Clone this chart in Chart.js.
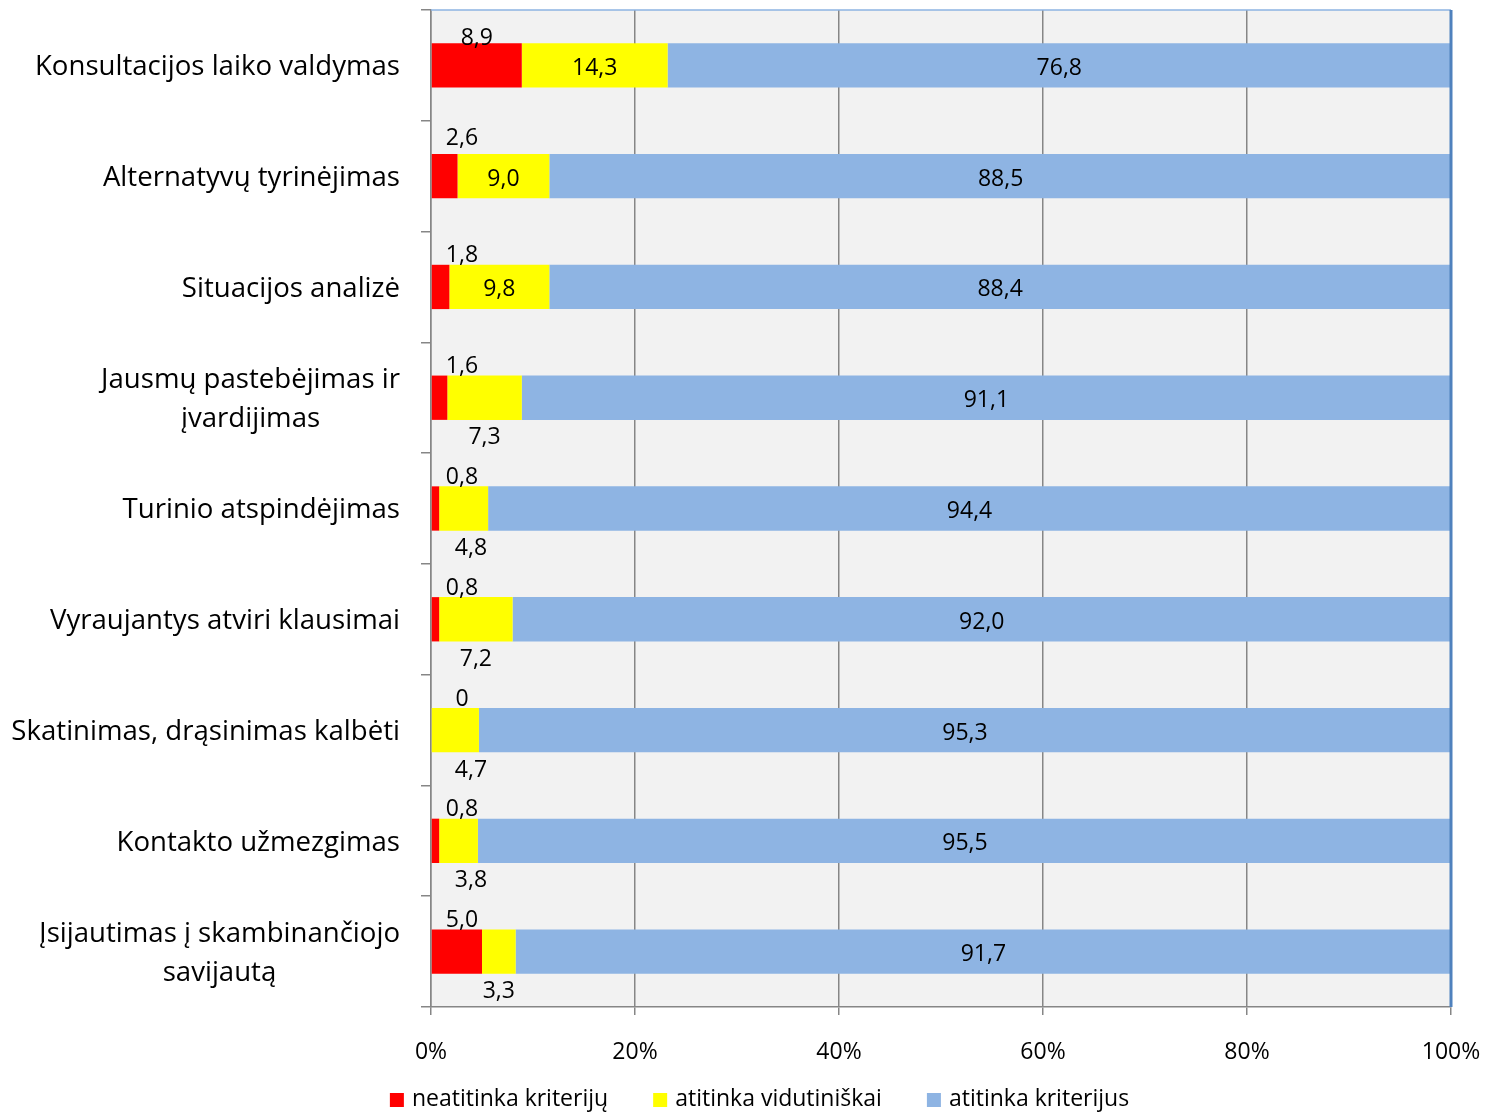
<!DOCTYPE html>
<html>
<head>
<meta charset="utf-8">
<script src="https://cdn.jsdelivr.net/npm/chart.js@4.4.0/dist/chart.umd.min.js"></script>
<style>
html, body { margin: 0; padding: 0; background: #ffffff; }
canvas { display: block; }
</style>
</head>
<body>
<canvas id="chart" width="1485" height="1112"></canvas>
<script>
var categories = [
    ['Konsultacijos laiko valdymas'],
    ['Alternatyvų tyrinėjimas'],
    ['Situacijos analizė'],
    ['Jausmų pastebėjimas ir', 'įvardijimas'],
    ['Turinio atspindėjimas'],
    ['Vyraujantys atviri klausimai'],
    ['Skatinimas, drąsinimas kalbėti'],
    ['Kontakto užmezgimas'],
    ['Įsijautimas į skambinančiojo', 'savijautą']
];
var neatitinka = [8.9, 2.6, 1.8, 1.6, 0.8, 0.8, 0, 0.8, 5.0];
var vidutiniskai = [14.3, 9.0, 9.8, 7.3, 4.8, 7.2, 4.7, 3.8, 3.3];
var atitinka = [76.8, 88.5, 88.4, 91.1, 94.4, 92.0, 95.3, 95.5, 91.7];
var seriesNames = ['neatitinka kriterijų', 'atitinka vidutiniškai', 'atitinka kriterijus'];
var xTicks = [0, 20, 40, 60, 80, 100];

var FONT = '"Open Sans", "DejaVu Sans", sans-serif';
var gridGray = '#868686';

var fmt = (v) => v === 0 ? '0' : v.toFixed(1).replace('.', ',');

// grey plot background + blue frame on top/right
var plotFrame = {
    id: 'plotFrame',
    beforeDraw: (chart) => {
        var a = chart.chartArea, ctx = chart.ctx;
        ctx.save();
        ctx.fillStyle = '#f2f2f2';
        ctx.fillRect(a.left, a.top, a.right - a.left, a.bottom - a.top);
        ctx.restore();
    },
    afterDatasetsDraw: (chart) => {
        var a = chart.chartArea, ctx = chart.ctx;
        ctx.save();
        ctx.strokeStyle = '#8db3e2';
        ctx.lineWidth = 1.5;
        ctx.beginPath();
        ctx.moveTo(a.left, a.top);
        ctx.lineTo(a.right, a.top);
        ctx.stroke();
        ctx.strokeStyle = '#4f81bd';
        ctx.lineWidth = 3;
        ctx.beginPath();
        ctx.moveTo(a.right, a.top);
        ctx.lineTo(a.right, a.bottom);
        ctx.stroke();
        ctx.restore();
    }
};

// y category labels: block right-aligned, lines centred on each other
var yLabels = {
    id: 'yLabels',
    afterDraw: (chart) => {
        var ctx = chart.ctx, ys = chart.scales.y;
        ctx.save();
        ctx.font = '27.6px ' + FONT;
        ctx.fillStyle = '#000000';
        ctx.textAlign = 'center';
        ctx.textBaseline = 'middle';
        categories.forEach((lines, i) => {
            var y = ys.getPixelForValue(i) + 2;
            var w = Math.max(...lines.map((t) => ctx.measureText(t).width));
            var cx = 400 - w / 2;
            var lh = 39;
            var y0 = y - (lines.length - 1) * lh / 2;
            lines.forEach((t, k) => ctx.fillText(t, cx, y0 + k * lh));
        });
        ctx.restore();
    }
};

var barLabels = {
    id: 'barLabels',
    afterDatasetsDraw: (chart) => {
        var ctx = chart.ctx, a = chart.chartArea;
        ctx.save();
        ctx.font = '23px ' + FONT;
        ctx.fillStyle = '#000000';
        ctx.textAlign = 'center';
        ctx.textBaseline = 'middle';
        chart.data.datasets.forEach((ds, d) => {
            var meta = chart.getDatasetMeta(d);
            meta.data.forEach((bar, i) => {
                var p = bar.getProps(['x', 'base', 'y'], true);
                var v = ds.data[i];
                var cx = (p.x + p.base) / 2;
                var tx = cx, ty = p.y + 3;
                if (d === 0) {
                    tx = Math.max(cx, a.left + 31);
                    ty = p.y + 3 - (i === 0 ? 30 : i === 1 ? 41 : 34);
                } else if (d === 1 && v < 8) {
                    tx = Math.max(cx, a.left + 40);
                    ty = p.y + 40;
                }
                ctx.fillText(fmt(v), tx, ty);
            });
        });
        ctx.restore();
    }
};

var legendBoxes = {
    id: 'legendBoxes',
    afterDraw: (chart) => {
        var ctx = chart.ctx;
        ctx.save();
        ctx.font = '23px ' + FONT;
        ctx.textBaseline = 'middle';
        ctx.textAlign = 'left';
        var box = 14, gap = 8, between = 45;
        var widths = chart.data.datasets.map((ds) => box + gap + ctx.measureText(ds.label).width);
        var total = widths.reduce((s, w) => s + w, 0) + between * (widths.length - 1);
        var x = chart.width / 2 + 17 - total / 2;
        var y = 1099;
        chart.data.datasets.forEach((ds, d) => {
            ctx.fillStyle = ds.backgroundColor;
            ctx.fillRect(x, y - box / 2 + 1, box, box);
            ctx.fillStyle = '#000000';
            ctx.fillText(ds.label, x + box + gap, y);
            x += widths[d] + between;
        });
        ctx.restore();
    }
};

var ctx = document.getElementById('chart').getContext('2d');
var chart = new Chart(ctx, {
    type: 'bar',
    data: {
        labels: categories.map((l) => l.join(' ')),
        datasets: [{
            label: seriesNames[0],
            data: neatitinka,
            backgroundColor: '#ff0000',
        }, {
            label: seriesNames[1],
            data: vidutiniskai,
            backgroundColor: '#ffff00',
        }, {
            label: seriesNames[2],
            data: atitinka,
            backgroundColor: '#8eb4e3',
        }]
    },
    options: {
        indexAxis: 'y',
        responsive: false,
        animation: false,
        categoryPercentage: 1,
        barPercentage: 0.4,
        layout: {
            padding: { top: 10, right: 34, left: 0, bottom: 45 }
        },
        plugins: {
            legend: { display: false },
            tooltip: { enabled: false }
        },
        scales: {
            x: {
                stacked: true,
                min: 0,
                max: 100,
                afterBuildTicks: (scale) => {
                    scale.ticks = xTicks.map((v) => ({ value: v }));
                },
                afterFit: (scale) => {
                    scale.height = 60;
                    scale.paddingLeft = 0;
                    scale.paddingRight = 0;
                },
                grid: {
                    color: gridGray,
                    lineWidth: 1.5,
                    tickLength: 8,
                },
                border: { color: gridGray, width: 1.5 },
                ticks: {
                    padding: 24,
                    color: '#000000',
                    font: { family: FONT, size: 23 },
                    callback: (v) => v + '%'
                }
            },
            y: {
                stacked: true,
                afterFit: (scale) => { scale.width = 431; },
                grid: {
                    offset: true,
                    drawOnChartArea: false,
                    color: gridGray,
                    lineWidth: 1.5,
                    tickLength: 10,
                },
                border: { color: gridGray, width: 1.5 },
                ticks: { display: false }
            }
        }
    },
    plugins: [plotFrame, yLabels, barLabels, legendBoxes]
});
</script>
</body>
</html>
